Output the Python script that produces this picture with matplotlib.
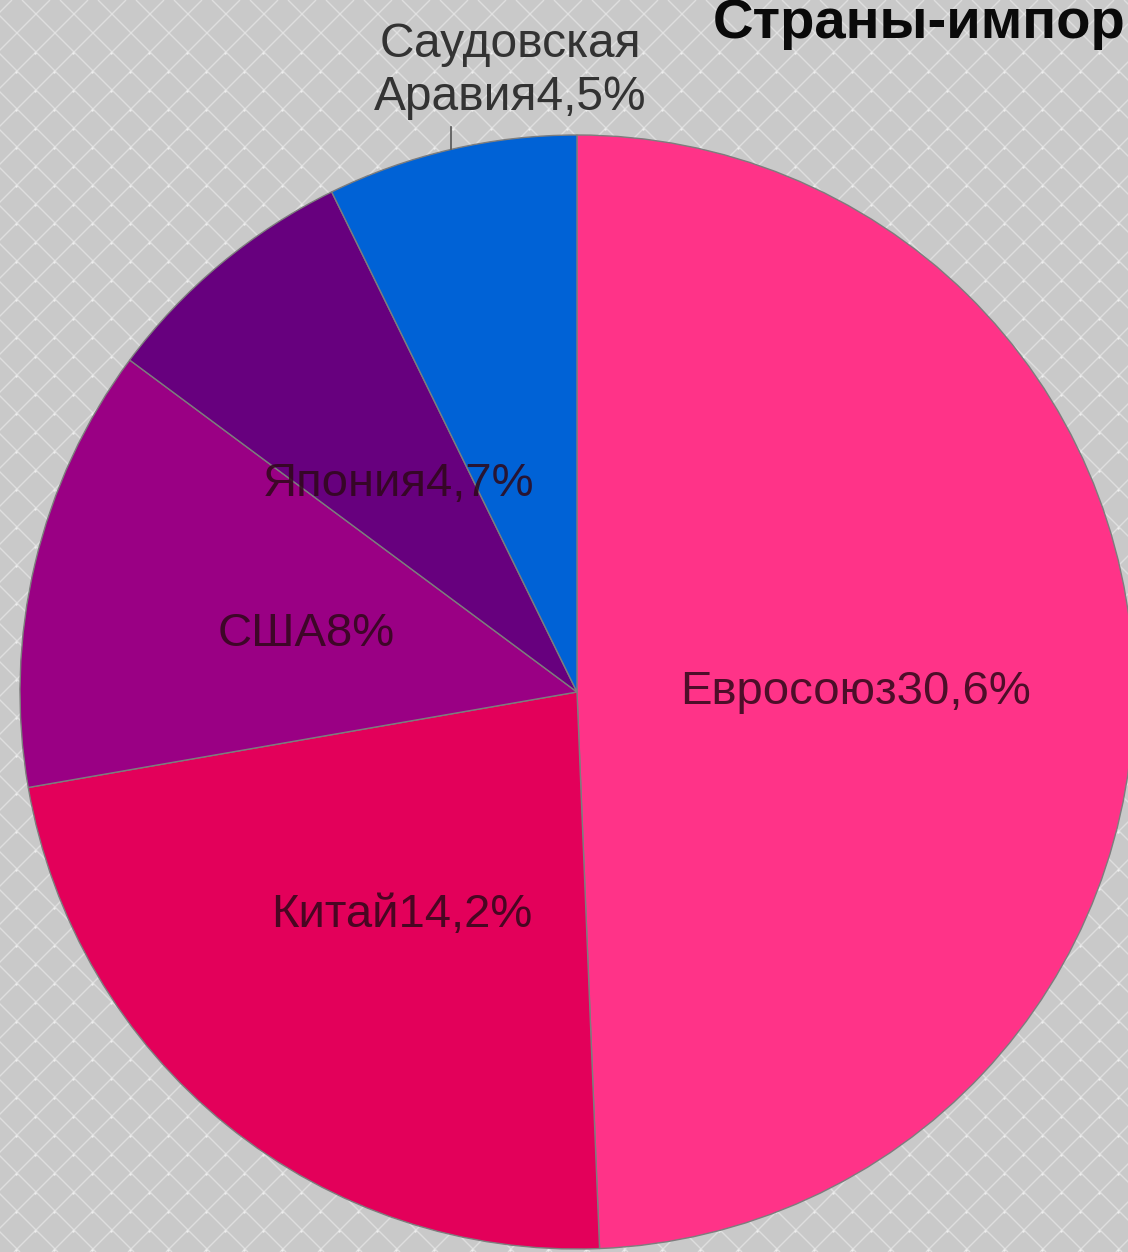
# -*- coding: utf-8 -*-
# Pie chart: oil importing countries, shares in percent
import numpy as np
import matplotlib.pyplot as plt
from matplotlib.collections import LineCollection

plt.rcParams['font.family'] = ['Liberation Sans', 'DejaVu Sans']

# Data:
countries = ['Евросоюз', 'Китай', 'США', 'Япония', 'Саудовская\nАравия']
shares = [30.6, 14.2, 8, 4.7, 4.5]
colors = ['#FF3388', '#E3005A', '#9A0084', '#67007E', '#0062D6']
title = 'Страны-импор'

W, H = 1128, 1252
fig = plt.figure(figsize=(W / 100, H / 100), dpi=100)
fig.patch.set_facecolor('#c9c9c9')
ax = fig.add_axes([0, 0, 1, 1])

# background lattice: diagonal white lines plus a dot in each diamond
step = 38
segs = []
for c in np.arange(-H - 26, W + H, step):
    segs.append([(c, 0), (c + H, H)])
    segs.append([(c + 8, H), (c + 8 + H, 0)])
ax.add_collection(LineCollection(segs, colors='#e8e8e8', linewidths=1.0,
                                 alpha=0.7, zorder=0))
dx, dy = np.meshgrid(np.arange(-19, W + 19, step), np.arange(0, H + 19, 19))
dx = dx + (np.arange(dx.shape[0])[:, None] % 2) * 19 + 16
ax.scatter(dx.ravel(), H - 53 - dy.ravel(), s=3,
           color='#eeeeee', linewidths=0, zorder=0)

# pie
cx, cy, r = 577, H - 692, 557
wedges, _ = ax.pie(shares, colors=colors, startangle=90, counterclock=False,
                   center=(cx, cy), radius=r, frame=True,
                   wedgeprops=dict(edgecolor='#7d7d7d', linewidth=1.0))
ax.set_xlim(0, W)
ax.set_ylim(0, H)
ax.set_aspect('equal')
ax.axis('off')

for w, name, v in zip(wedges, countries, shares):
    txt = name + f'{v:g}'.replace('.', ',') + '%'
    ang = np.deg2rad((w.theta1 + w.theta2) / 2)
    ca, sa = np.cos(ang), np.sin(ang)
    if v < 4.6:
        # small slice: label outside with a short leader
        ex, ey = cx + r * ca, cy + r * sa
        ax.plot([ex, ex], [ey, ey + 22], color='#555555', lw=1.2, zorder=3)
        ax.text(ex + 59, H - 110, txt, ha='center', va='baseline',
                fontsize=34.5, color='#333333', linespacing=1.22, zorder=4)
    else:
        ax.text(cx + 0.5 * r * ca, cy + 0.5 * r * sa - 6, txt, ha='center',
                va='center', fontsize=34, color='#2e0818', alpha=0.85,
                zorder=4)

ax.text(713, H - 38, title, ha='left', va='baseline', fontsize=40.5,
        fontweight='bold', color='#0a0a0a', zorder=4)

fig.savefig('out.png', dpi=100, facecolor=fig.get_facecolor())
